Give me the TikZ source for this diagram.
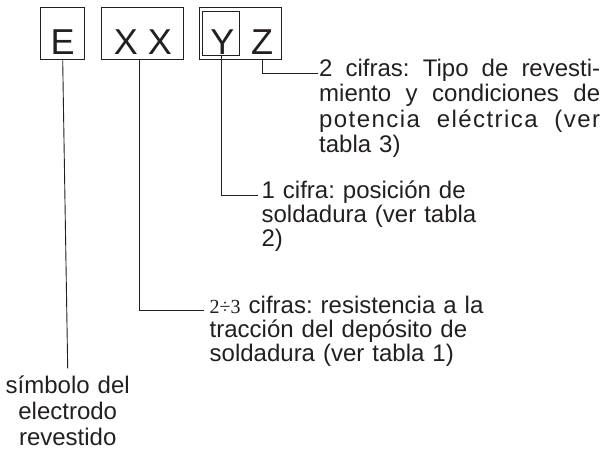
\documentclass[tikz,border=0pt]{standalone}
\usepackage{fontspec}
\setmainfont{Liberation Sans}
\newfontfamily\serifdigits{Liberation Serif}
\usetikzlibrary{positioning}
\definecolor{inkgray}{RGB}{35,31,32}
\newcommand\fullline[1]{\makebox[281pt][s]{\spaceskip=0pt\xspaceskip=0pt #1}}

\begin{document}
\frenchspacing
\begin{tikzpicture}[x=1pt, y=-1pt, inkgray,
  font=\fontsize{24}{24}\selectfont,
  box/.style={draw, line width=1pt, inner sep=0pt, minimum height=52.3pt},
  letter/.style={font=\fontsize{36}{36}\selectfont, inner sep=0pt, anchor=base},
  lbl/.style={inner sep=0pt, anchor=base west, align=left},
  lead/.style={line width=0.9pt}]
  \useasboundingbox (0,0) rectangle (605,455);
  % code boxes
  \node[box, minimum width=44pt] (e) at (62.7,33.8) {};
  \node[box, minimum width=82pt] (xx) at (142,33.8) {};
  \node[box, minimum width=81.7pt] (yz) at (240.2,33.8) {};
  \node[draw, line width=1pt, inner sep=0pt, minimum width=36.7pt, minimum height=44.3pt] (y) at (221.3,33.8) {};
  \node[letter] (le) at (62.7,54.3) {E};
  \node[letter] (lxx) at (143,54.3) {X X};
  \node[letter] (ly) at (222.3,54.3) {Y};
  \node[letter] (lz) at (262,54.3) {Z};
  % labels
  \node[lbl, text width=281pt, font=\fontsize{24}{25.6}\selectfont] (zlbl) at (319,76)
    {\fullline{2 cifras: Tipo de revesti-}\\
     \fullline{miento y condiciones de}\\
     \fullline{\addfontfeature{LetterSpace=6}potencia el\'ectrica (ver}\\
     tabla 3)};
  \node[lbl, text width=230pt] (ylbl) at (261.4,198.3)
    {1 cifra: posici\'on de\\ soldadura (ver tabla\\ 2)};
  \node[lbl, text width=300pt] (xxlbl) at (209.5,313.3)
    {{\serifdigits\fontsize{20}{24}\selectfont 2\symbol{"00F7}3} cifras: resistencia a la\\ tracci\'on del dep\'osito de\\ soldadura (ver tabla 1)};
  \node[anchor=base, align=center, text width=140pt, inner xsep=0pt, inner ysep=7pt,
    font=\fontsize{24}{26}\selectfont] (elbl) at (67.7,393.3)
    {s\'imbolo del\\ electrodo\\ revestido};
  % leaders
  \draw[lead] (e.south) -- (elbl.north);
  \draw[lead] ([xshift=-3pt]xx.south) |- ([xshift=-6pt]xxlbl.mid west);
  \draw[lead] (y.south) |- ([xshift=-3pt]ylbl.mid west);
  \draw[lead] (lz |- yz.south) |- ([xshift=-1pt]zlbl.mid west);
\end{tikzpicture}
\end{document}
